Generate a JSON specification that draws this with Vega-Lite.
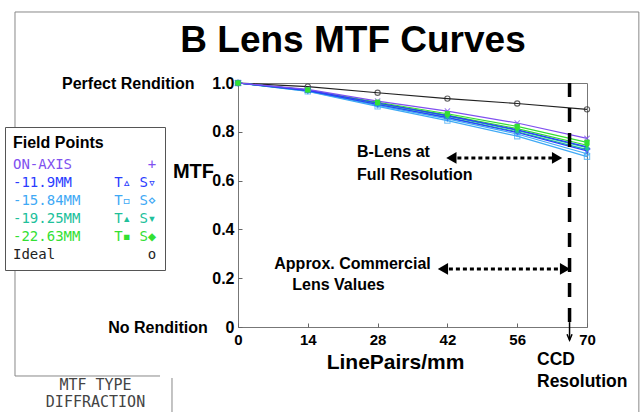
{
  "$schema": "https://vega.github.io/schema/vega-lite/v6.json",
  "width": 349,
  "height": 244,
  "autosize": {"type": "none"},
  "padding": {"left": 238, "top": 83, "right": 57, "bottom": 85},
  "background": "white",
  "config": {
    "view": {"stroke": "#777", "strokeWidth": 1},
    "axis": {"grid": false, "domain": false, "tickColor": "#666", "tickSize": -4, "labelFont": "Liberation Sans", "labelFontWeight": "bold", "labelColor": "black", "titleFont": "Liberation Sans", "titleFontWeight": "bold", "titleColor": "black", "labelFlush": false}
  },
  "datasets": {
    "mtf": [
      {"series": "Ideal", "field": "Ideal", "lp": 0, "mtf": 1.0},
      {"series": "Ideal", "field": "Ideal", "lp": 14, "mtf": 0.985},
      {"series": "Ideal", "field": "Ideal", "lp": 28, "mtf": 0.96},
      {"series": "Ideal", "field": "Ideal", "lp": 42, "mtf": 0.936},
      {"series": "Ideal", "field": "Ideal", "lp": 56, "mtf": 0.916},
      {"series": "Ideal", "field": "Ideal", "lp": 70, "mtf": 0.892},
      {"series": "-15.84MM T", "field": "-15.84MM", "lp": 0, "mtf": 1.0},
      {"series": "-15.84MM T", "field": "-15.84MM", "lp": 14, "mtf": 0.966},
      {"series": "-15.84MM T", "field": "-15.84MM", "lp": 28, "mtf": 0.904},
      {"series": "-15.84MM T", "field": "-15.84MM", "lp": 42, "mtf": 0.846},
      {"series": "-15.84MM T", "field": "-15.84MM", "lp": 56, "mtf": 0.782},
      {"series": "-15.84MM T", "field": "-15.84MM", "lp": 70, "mtf": 0.698},
      {"series": "-15.84MM S", "field": "-15.84MM", "lp": 0, "mtf": 1.0},
      {"series": "-15.84MM S", "field": "-15.84MM", "lp": 14, "mtf": 0.967},
      {"series": "-15.84MM S", "field": "-15.84MM", "lp": 28, "mtf": 0.908},
      {"series": "-15.84MM S", "field": "-15.84MM", "lp": 42, "mtf": 0.853},
      {"series": "-15.84MM S", "field": "-15.84MM", "lp": 56, "mtf": 0.791},
      {"series": "-15.84MM S", "field": "-15.84MM", "lp": 70, "mtf": 0.71},
      {"series": "-19.25MM T", "field": "-19.25MM", "lp": 0, "mtf": 1.0},
      {"series": "-19.25MM T", "field": "-19.25MM", "lp": 14, "mtf": 0.97},
      {"series": "-19.25MM T", "field": "-19.25MM", "lp": 28, "mtf": 0.916},
      {"series": "-19.25MM T", "field": "-19.25MM", "lp": 42, "mtf": 0.864},
      {"series": "-19.25MM T", "field": "-19.25MM", "lp": 56, "mtf": 0.806},
      {"series": "-19.25MM T", "field": "-19.25MM", "lp": 70, "mtf": 0.735},
      {"series": "-19.25MM S", "field": "-19.25MM", "lp": 0, "mtf": 1.0},
      {"series": "-19.25MM S", "field": "-19.25MM", "lp": 14, "mtf": 0.969},
      {"series": "-19.25MM S", "field": "-19.25MM", "lp": 28, "mtf": 0.913},
      {"series": "-19.25MM S", "field": "-19.25MM", "lp": 42, "mtf": 0.859},
      {"series": "-19.25MM S", "field": "-19.25MM", "lp": 56, "mtf": 0.8},
      {"series": "-19.25MM S", "field": "-19.25MM", "lp": 70, "mtf": 0.727},
      {"series": "-22.63MM T", "field": "-22.63MM", "lp": 0, "mtf": 1.0},
      {"series": "-22.63MM T", "field": "-22.63MM", "lp": 14, "mtf": 0.972},
      {"series": "-22.63MM T", "field": "-22.63MM", "lp": 28, "mtf": 0.921},
      {"series": "-22.63MM T", "field": "-22.63MM", "lp": 42, "mtf": 0.874},
      {"series": "-22.63MM T", "field": "-22.63MM", "lp": 56, "mtf": 0.822},
      {"series": "-22.63MM T", "field": "-22.63MM", "lp": 70, "mtf": 0.757},
      {"series": "-22.63MM S", "field": "-22.63MM", "lp": 0, "mtf": 1.0},
      {"series": "-22.63MM S", "field": "-22.63MM", "lp": 14, "mtf": 0.971},
      {"series": "-22.63MM S", "field": "-22.63MM", "lp": 28, "mtf": 0.918},
      {"series": "-22.63MM S", "field": "-22.63MM", "lp": 42, "mtf": 0.868},
      {"series": "-22.63MM S", "field": "-22.63MM", "lp": 56, "mtf": 0.813},
      {"series": "-22.63MM S", "field": "-22.63MM", "lp": 70, "mtf": 0.745},
      {"series": "-11.9MM T", "field": "-11.9MM", "lp": 0, "mtf": 1.0},
      {"series": "-11.9MM T", "field": "-11.9MM", "lp": 14, "mtf": 0.971},
      {"series": "-11.9MM T", "field": "-11.9MM", "lp": 28, "mtf": 0.918},
      {"series": "-11.9MM T", "field": "-11.9MM", "lp": 42, "mtf": 0.866},
      {"series": "-11.9MM T", "field": "-11.9MM", "lp": 56, "mtf": 0.808},
      {"series": "-11.9MM T", "field": "-11.9MM", "lp": 70, "mtf": 0.738},
      {"series": "-11.9MM S", "field": "-11.9MM", "lp": 0, "mtf": 1.0},
      {"series": "-11.9MM S", "field": "-11.9MM", "lp": 14, "mtf": 0.969},
      {"series": "-11.9MM S", "field": "-11.9MM", "lp": 28, "mtf": 0.912},
      {"series": "-11.9MM S", "field": "-11.9MM", "lp": 42, "mtf": 0.858},
      {"series": "-11.9MM S", "field": "-11.9MM", "lp": 56, "mtf": 0.797},
      {"series": "-11.9MM S", "field": "-11.9MM", "lp": 70, "mtf": 0.722},
      {"series": "ON-AXIS", "field": "ON-AXIS", "lp": 0, "mtf": 1.0},
      {"series": "ON-AXIS", "field": "ON-AXIS", "lp": 14, "mtf": 0.974},
      {"series": "ON-AXIS", "field": "ON-AXIS", "lp": 28, "mtf": 0.926},
      {"series": "ON-AXIS", "field": "ON-AXIS", "lp": 42, "mtf": 0.885},
      {"series": "ON-AXIS", "field": "ON-AXIS", "lp": 56, "mtf": 0.836},
      {"series": "ON-AXIS", "field": "ON-AXIS", "lp": 70, "mtf": 0.773}
    ]
  },
  "data": {"name": "mtf"},
  "layer": [
    {
      "mark": {"type": "line", "strokeWidth": 1.2},
      "encoding": {
        "x": {"field": "lp", "type": "quantitative", "scale": {"domain": [0, 70], "nice": false},
          "axis": {"values": [0, 14, 28, 42, 56, 70], "labelFontSize": 15, "labelPadding": 9, "title": "LinePairs/mm", "titleFontSize": 21, "titleX": 157, "titleY": 41, "titleAlign": "center", "titleBaseline": "alphabetic"}},
        "y": {"field": "mtf", "type": "quantitative", "scale": {"domain": [0, 1], "nice": false},
          "axis": {"values": [0, 0.2, 0.4, 0.6, 0.8, 1], "labelFontSize": 16, "labelPadding": 8, "labelLimit": 300,
            "labelExpr": "datum.value == 1 ? 'Perfect Rendition\u00a0\u00a0\u00a0\u00a01.0' : datum.value == 0 ? 'No Rendition\u00a0\u00a0\u00a0\u00a00' : format(datum.value, '.1f')",
            "title": "MTF", "titleAngle": 0, "titleFontSize": 20, "titleX": -45, "titleY": 94, "titleAlign": "center", "titleBaseline": "alphabetic"}},
        "color": {"field": "field", "type": "nominal",
          "scale": {"domain": ["ON-AXIS", "-11.9MM", "-15.84MM", "-19.25MM", "-22.63MM", "Ideal"], "range": ["#8050f0", "#2a3cff", "#3fa9f5", "#20c09a", "#33e033", "#222222"]},
          "legend": {
            "title": "Field Points", "orient": "none", "legendX": -233, "legendY": 44,
            "fillColor": "white", "strokeColor": "#555", "padding": 8, "cornerRadius": 0,
            "titleFont": "Liberation Sans", "titleFontSize": 16, "titleFontWeight": "bold", "titleColor": "black", "titlePadding": 7,
            "labelFont": "DejaVu Sans Mono", "labelFontSize": 14, "labelLimit": 400, "labelOffset": -14,
            "symbolSize": 1, "symbolOpacity": 0, "symbolStrokeWidth": 0, "rowPadding": 4,
            "labelExpr": "datum.value == 'ON-AXIS' ? 'ON-AXIS\u00a0\u00a0\u00a0\u00a0\u00a0\u00a0\u00a0\u00a0\u00a0+' : datum.value == '-11.9MM' ? '-11.9MM\u00a0\u00a0\u00a0\u00a0\u00a0T\u25b5\u00a0S\u25bf' : datum.value == '-15.84MM' ? '-15.84MM\u00a0\u00a0\u00a0\u00a0T\u25ab\u00a0S\u22c4' : datum.value == '-19.25MM' ? '-19.25MM\u00a0\u00a0\u00a0\u00a0T\u25b4\u00a0S\u25be' : datum.value == '-22.63MM' ? '-22.63MM\u00a0\u00a0\u00a0\u00a0T\u25aa\u00a0S\u25c6' : 'Ideal\u00a0\u00a0\u00a0\u00a0\u00a0\u00a0\u00a0\u00a0\u00a0\u00a0\u00a0o'",
            "encode": {"labels": {"update": {"fill": {"scale": "color", "field": "value"}}}}
          }},
        "detail": {"field": "series"}
      }
    },
    {
      "transform": [{"filter": {"field": "series", "oneOf": ["Ideal", "ON-AXIS", "-11.9MM T", "-11.9MM S", "-15.84MM T", "-15.84MM S"]}}],
      "mark": {"type": "point", "filled": false, "size": 28, "strokeWidth": 1.1},
      "encoding": {
        "x": {"field": "lp", "type": "quantitative"},
        "y": {"field": "mtf", "type": "quantitative"},
        "color": {"field": "field", "type": "nominal"},
        "shape": {"field": "series", "type": "nominal", "legend": null,
          "scale": {"domain": ["Ideal", "ON-AXIS", "-11.9MM T", "-11.9MM S", "-15.84MM T", "-15.84MM S", "-19.25MM T", "-19.25MM S", "-22.63MM T", "-22.63MM S"],
            "range": ["circle", "M-1,-1L1,1M-1,1L1,-1", "triangle-up", "triangle-down", "square", "diamond", "triangle-up", "triangle-down", "square", "diamond"]}}
      }
    },
    {
      "transform": [{"filter": {"field": "series", "oneOf": ["-19.25MM T", "-19.25MM S", "-22.63MM T", "-22.63MM S"]}}],
      "mark": {"type": "point", "filled": true, "size": 28, "opacity": 1},
      "encoding": {
        "x": {"field": "lp", "type": "quantitative"},
        "y": {"field": "mtf", "type": "quantitative"},
        "color": {"field": "field", "type": "nominal"},
        "shape": {"field": "series", "type": "nominal", "legend": null}
      }
    },
    {
      "data": {"values": [{}]},
      "mark": {"type": "text", "text": "B Lens MTF Curves", "font": "Liberation Sans", "fontWeight": "bold", "fontSize": 37, "color": "black", "align": "center", "baseline": "alphabetic"},
      "encoding": {"x": {"datum": 23.07, "type": "quantitative"}, "y": {"datum": 1.127, "type": "quantitative"}}
    },
    {
      "data": {"values": [{}]},
      "mark": {"type": "rule", "color": "#888", "strokeWidth": 1},
      "encoding": {"x": {"datum": -44.73, "type": "quantitative"}, "x2": {"datum": 80.4}, "y": {"datum": 1.291, "type": "quantitative"}}
    },
    {
      "data": {"values": [{}]},
      "mark": {"type": "rule", "color": "#888", "strokeWidth": 1},
      "encoding": {"x": {"datum": -44.73, "type": "quantitative"}, "y": {"datum": 1.291, "type": "quantitative"}, "y2": {"datum": -0.2008}}
    },
    {
      "data": {"values": [{}]},
      "mark": {"type": "rule", "color": "#888", "strokeWidth": 1},
      "encoding": {"x": {"datum": 80.4, "type": "quantitative"}, "y": {"datum": 1.291, "type": "quantitative"}, "y2": {"datum": -0.36}}
    },
    {
      "data": {"values": [{}]},
      "mark": {"type": "rule", "color": "#888", "strokeWidth": 1},
      "encoding": {"x": {"datum": -44.73, "type": "quantitative"}, "x2": {"datum": -15.64}, "y": {"datum": -0.2008, "type": "quantitative"}}
    },
    {
      "data": {"values": [{}]},
      "mark": {"type": "rule", "color": "#888", "strokeWidth": 1},
      "encoding": {"x": {"datum": -13.24, "type": "quantitative"}, "y": {"datum": -0.209, "type": "quantitative"}, "y2": {"datum": -0.36}}
    },
    {
      "data": {"values": [{}]},
      "mark": {"type": "text", "text": ["MTF TYPE", "DIFFRACTION"], "font": "DejaVu Sans Mono", "fontSize": 15, "color": "#444", "align": "center", "baseline": "alphabetic", "lineHeight": 17},
      "encoding": {"x": {"datum": -28.58, "type": "quantitative"}, "y": {"datum": -0.258, "type": "quantitative"}}
    },
    {
      "data": {"values": [{}]},
      "mark": {"type": "rule", "color": "black", "strokeWidth": 3.5, "strokeDash": [14, 11]},
      "encoding": {"x": {"datum": 66.5, "type": "quantitative"}, "y": {"datum": 1.0, "type": "quantitative"}, "y2": {"datum": 0.02}}
    },
    {
      "data": {"values": [{}]},
      "mark": {"type": "rule", "color": "black", "strokeWidth": 1.5},
      "encoding": {"x": {"datum": 66.5, "type": "quantitative"}, "y": {"datum": 0.02, "type": "quantitative"}, "y2": {"datum": -0.054}}
    },
    {
      "data": {"values": [{}]},
      "mark": {"type": "point", "shape": "M-1.67,-4L0,0L1.67,-4", "size": 9, "filled": false, "color": "black", "strokeWidth": 1.5, "opacity": 1},
      "encoding": {"x": {"datum": 66.5, "type": "quantitative"}, "y": {"datum": -0.054, "type": "quantitative"}}
    },
    {
      "data": {"values": [{}]},
      "mark": {"type": "rule", "color": "black", "strokeWidth": 3, "strokeDash": [4, 3]},
      "encoding": {"x": {"datum": 44, "type": "quantitative"}, "x2": {"datum": 63}, "y": {"datum": 0.693, "type": "quantitative"}}
    },
    {
      "data": {"values": [{}]},
      "mark": {"type": "point", "shape": "triangle-left", "size": 140, "filled": true, "color": "black", "opacity": 1},
      "encoding": {"x": {"datum": 42.8, "type": "quantitative"}, "y": {"datum": 0.693, "type": "quantitative"}}
    },
    {
      "data": {"values": [{}]},
      "mark": {"type": "point", "shape": "triangle-right", "size": 140, "filled": true, "color": "black", "opacity": 1},
      "encoding": {"x": {"datum": 64.0, "type": "quantitative"}, "y": {"datum": 0.693, "type": "quantitative"}}
    },
    {
      "data": {"values": [{}]},
      "mark": {"type": "rule", "color": "black", "strokeWidth": 3, "strokeDash": [4, 3]},
      "encoding": {"x": {"datum": 42.3, "type": "quantitative"}, "x2": {"datum": 64.4}, "y": {"datum": 0.238, "type": "quantitative"}}
    },
    {
      "data": {"values": [{}]},
      "mark": {"type": "point", "shape": "triangle-left", "size": 140, "filled": true, "color": "black", "opacity": 1},
      "encoding": {"x": {"datum": 41.1, "type": "quantitative"}, "y": {"datum": 0.238, "type": "quantitative"}}
    },
    {
      "data": {"values": [{}]},
      "mark": {"type": "point", "shape": "triangle-right", "size": 140, "filled": true, "color": "black", "opacity": 1},
      "encoding": {"x": {"datum": 65.6, "type": "quantitative"}, "y": {"datum": 0.238, "type": "quantitative"}}
    },
    {
      "data": {"values": [{}]},
      "mark": {"type": "text", "text": ["B-Lens at", "Full Resolution"], "font": "Liberation Sans", "fontWeight": "bold", "fontSize": 16, "color": "black", "align": "left", "baseline": "alphabetic", "lineHeight": 23},
      "encoding": {"x": {"datum": 23.87, "type": "quantitative"}, "y": {"datum": 0.697, "type": "quantitative"}}
    },
    {
      "data": {"values": [{}]},
      "mark": {"type": "text", "text": "Approx. Commercial", "font": "Liberation Sans", "fontWeight": "bold", "fontSize": 16, "color": "black", "align": "center", "baseline": "alphabetic"},
      "encoding": {"x": {"datum": 22.97, "type": "quantitative"}, "y": {"datum": 0.2377, "type": "quantitative"}}
    },
    {
      "data": {"values": [{}]},
      "mark": {"type": "text", "text": "Lens Values", "font": "Liberation Sans", "fontWeight": "bold", "fontSize": 16, "color": "black", "align": "center", "baseline": "alphabetic"},
      "encoding": {"x": {"datum": 20.16, "type": "quantitative"}, "y": {"datum": 0.1516, "type": "quantitative"}}
    },
    {
      "data": {"values": [{}]},
      "mark": {"type": "text", "text": ["CCD", "Resolution"], "font": "Liberation Sans", "fontWeight": "bold", "fontSize": 17.5, "color": "black", "align": "left", "baseline": "alphabetic", "lineHeight": 22},
      "encoding": {"x": {"datum": 59.97, "type": "quantitative"}, "y": {"datum": -0.156, "type": "quantitative"}}
    }
  ]
}
